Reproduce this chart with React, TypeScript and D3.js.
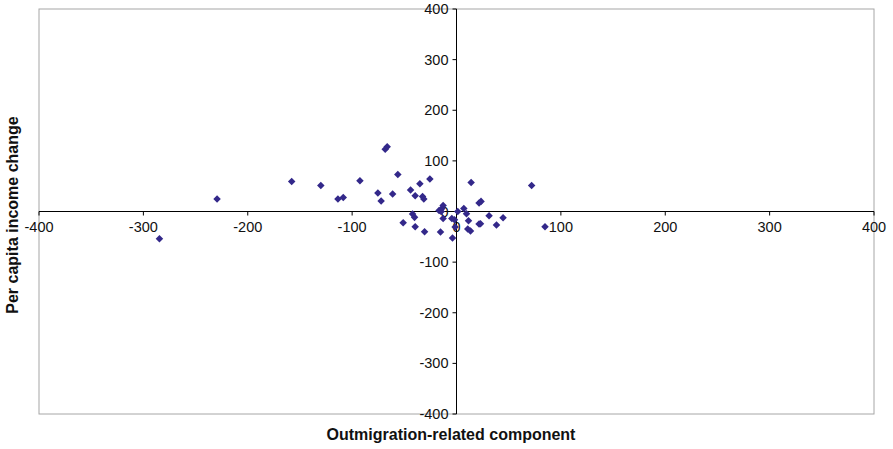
import React from "react";
import * as d3 from "d3";

// outmigration-related component (x) vs per capita income change (y)
const outmigration = [
  -284.6, -229.4, -157.9, -130, -113.6, -108.5, -92.5, -68.3, -66.4, -75.3,
  -72.2, -61.2, -56.2, -51.1, -44, -42.1, -40.2, -39.6, -39.6, -35.1,
  -32.5, -31.3, -30.6, -25.5, -15.3, -16.7, -14, -12.8, -12.8, -4.5,
  -1.9, -3.8, -1.3, 1.2, 7, 9.6, 11.5, 14, 10.8, 13.4,
  21.6, 72, 21.6, 23.5, 23, 31.2, 38.3, 44.6, 84.8, -14.7,
];
const incomeChange = [
  -54, 24.6, 59.4, 51.5, 24.6, 27.8, 60.7, 123, 128, 36.5,
  20.7, 34.5, 73.2, -22, 42.4, -5, -11.6, 31.2, -30, 54.8,
  29.8, 24.6, -39.8, 64.1, -40.4, 2.2, 6.1, 12, -13.6, -13.6,
  -16.2, -52.3, -30.6, 0.2, 6.1, -4.3, -18.1, 57.4, -34.5, -38.5,
  -24.7, 51.5, 16.8, 20, -24, -8.3, -26.6, -12.2, -30, 0,
];
const xTicks = [-400, -300, -200, -100, 0, 100, 200, 300, 400];
const yTicks = [-400, -300, -200, -100, 0, 100, 200, 300, 400];

const W = 893;
const H = 449;
const plot = { left: 39, right: 874, top: 9, bottom: 414 };
const font = "'Liberation Sans', Arial, sans-serif";
const dotColor = "#33288a";

export default function App() {
  const x = d3.scaleLinear().domain([-400, 400]).range([plot.left, plot.right]);
  const y = d3.scaleLinear().domain([-400, 400]).range([plot.bottom, plot.top]);
  const diamond = d3.symbol().type(d3.symbolDiamond2).size(36)();

  return (
    <svg
      width={W}
      height={H}
      style={{ position: "fixed", left: 0, top: 0, background: "#fff" }}
    >
      <rect
        x={plot.left}
        y={plot.top}
        width={plot.right - plot.left}
        height={plot.bottom - plot.top}
        fill="none"
        stroke="#a6a6a6"
      />
      {/* x axis */}
      <line x1={plot.left} x2={plot.right} y1={y(0)} y2={y(0)} stroke="#000" />
      {xTicks.map((t) => (
        <g key={"x" + t}>
          <line x1={x(t)} x2={x(t)} y1={y(0)} y2={y(0) + 4} stroke="#000" />
          <text
            x={x(t)}
            y={y(0) + 20}
            textAnchor="middle"
            fontFamily={font}
            fontSize={14.5}
            fill="#111"
          >
            {t}
          </text>
        </g>
      ))}
      {/* y axis */}
      <line x1={x(0)} x2={x(0)} y1={plot.top} y2={plot.bottom} stroke="#000" />
      {yTicks.map((t) => (
        <g key={"y" + t}>
          <line x1={x(0) - 4} x2={x(0)} y1={y(t)} y2={y(t)} stroke="#000" />
          <text
            x={x(0) - 8}
            y={y(t)}
            dy="0.35em"
            textAnchor="end"
            fontFamily={font}
            fontSize={14.5}
            fill="#111"
          >
            {t}
          </text>
        </g>
      ))}
      {outmigration.map((v, i) => (
        <path
          key={i}
          d={diamond!}
          transform={`translate(${x(v)},${y(incomeChange[i])})`}
          fill={dotColor}
        />
      ))}
      <text
        x={451}
        y={440}
        textAnchor="middle"
        fontFamily={font}
        fontSize={16}
        fontWeight="bold"
        fill="#111"
      >
        Outmigration-related component
      </text>
      <text
        transform="translate(18,215) rotate(-90)"
        textAnchor="middle"
        fontFamily={font}
        fontSize={16}
        fontWeight="bold"
        fill="#111"
      >
        Per capita income change
      </text>
    </svg>
  );
}
